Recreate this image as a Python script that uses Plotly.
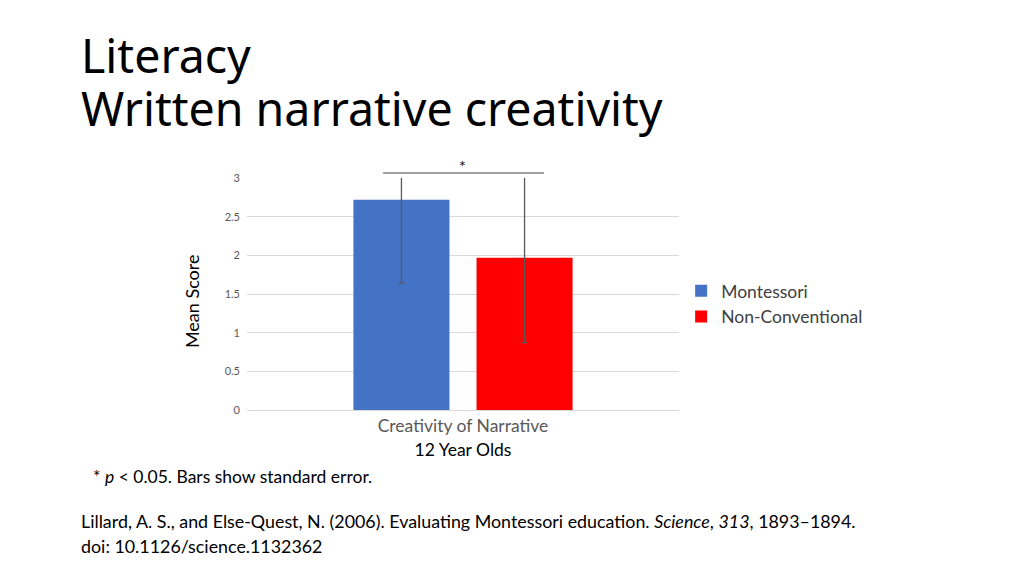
import plotly.graph_objects as go

# data
category = ["Creativity of Narrative"]
groups = ["Montessori", "Non-Conventional"]
means = [2.72, 1.97]
std_err = [1.08, 1.10]
colors = ["#4472C4", "#FF0000"]
y_ticks = [0, 0.5, 1, 1.5, 2, 2.5, 3]
y_tick_labels = ["0", "0.5", "1", "1.5", "2", "2.5", "3"]

fig = go.Figure()
for name, m, se, c in zip(groups, means, std_err, colors):
    fig.add_trace(go.Bar(
        x=category, y=[m], name=name,
        marker=dict(color=c, line=dict(width=0)),
        error_y=dict(type="data", array=[se], symmetric=True,
                     color="#595959", thickness=1.3, width=3),
    ))

fig.update_layout(
    width=1024, height=575,
    paper_bgcolor="white", plot_bgcolor="white",
    margin=dict(l=239, r=353, t=170, b=173, autoexpand=False),
    font=dict(family="Lato, Carlito, sans-serif", color="black"),
    barmode="group", bargap=0.43, bargroupgap=0.22,
    showlegend=True,
    legend=dict(x=1.005, y=0.457, xanchor="left", yanchor="middle",
                font=dict(size=17.5, color="#404040"),
                bgcolor="rgba(0,0,0,0)", itemwidth=30),
)
fig.update_yaxes(
    range=[0, 3], tickvals=y_ticks, ticktext=y_tick_labels,
    showgrid=True, gridcolor="#D9D9D9", gridwidth=1,
    zeroline=False, showline=False, ticks="",
    tickfont=dict(size=11, color="#595959"), ticklabelstandoff=6,
)
fig.update_xaxes(
    showline=True, linecolor="#D9D9D9", ticks="",
    tickfont=dict(size=17.5, color="#595959"),
    title=dict(text="12 Year Olds", font=dict(size=17.5, color="black"), standoff=8),
)

# significance bracket
fig.add_shape(type="line", xref="paper", yref="paper",
              x0=0.315, x1=0.6875, y0=1.0216, y1=1.0216,
              line=dict(color="#808080", width=1.5))
fig.add_annotation(xref="paper", yref="paper", x=0.498, y=1.052,
                   text="*", showarrow=False, xanchor="center", yanchor="middle",
                   font=dict(size=16, color="black"))

# y-axis title
fig.add_annotation(xref="paper", yref="paper", x=-0.127, y=0.47,
                   xanchor="center", yanchor="middle",
                   text="Mean Score", textangle=-90, showarrow=False,
                   font=dict(size=18, color="black"))

# slide title, two lines set separately for tighter spacing
title_lines = ["Literacy", "Written narrative creativity"]
for text, y in zip(title_lines, [1.677, 1.448]):
    fig.add_annotation(xref="paper", yref="paper", x=-0.389, y=y,
                       xanchor="left", yanchor="top", text=text, showarrow=False,
                       font=dict(family="Noto Sans, Open Sans, sans-serif",
                                 size=46.5, color="black"))

# footnote and citation
text_lines = [
    ("* <i>p</i> < 0.05. Bars show standard error.", -0.361, 476, 17.5),
    ("Lillard, A. S., and Else-Quest, N. (2006). Evaluating Montessori education. "
     "<i>Science</i>, <i>313</i>, 1893–1894.", -0.389, 521, 17.85),
    ("doi: 10.1126/science.1132362", -0.389, 546, 17.85),
]
for text, x, py, size in text_lines:
    fig.add_annotation(xref="paper", yref="paper", x=x, y=(410 - py) / 232,
                       xanchor="left", yanchor="middle", align="left",
                       text=text, showarrow=False,
                       font=dict(size=size, color="black"))

fig.write_html("out.html")
